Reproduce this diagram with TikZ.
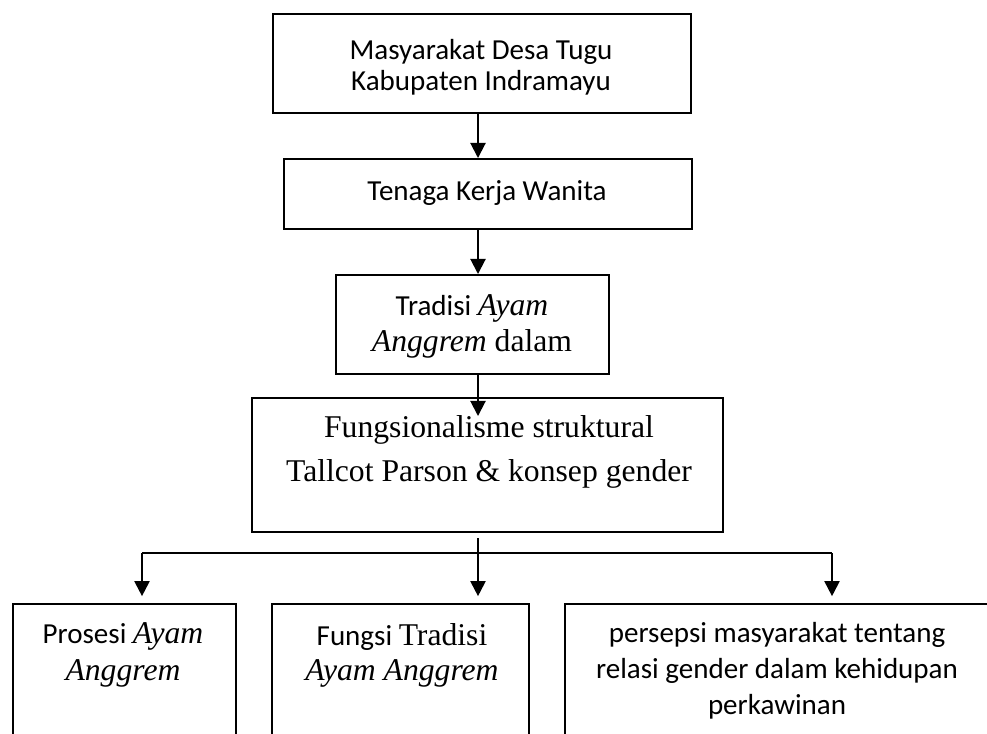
\documentclass[tikz,border=0pt]{standalone}
\usepackage{fontspec}
\setmainfont{Liberation Serif}
\newfontfamily\calibri{Carlito}
\usetikzlibrary{arrows.meta}

\newcommand{\tnr}[1]{{\rmfamily\fontsize{12pt}{\the\baselineskip}\selectfont #1}}

\tikzset{
	kotak/.style={draw, line width=0.75pt, inner sep=0pt},
	teks/.style={inner sep=0pt, align=center},
	panah/.style={line width=0.75pt, -{Triangle[width=5.7pt, length=5.7pt]}},
}

\begin{document}
\begin{tikzpicture}[x=0.379pt, y=-0.379pt]
			\def\ux{0.379pt};

			\useasboundingbox (0,0) rectangle (987,733);
			\clip (0,0) rectangle (987,733);

			\coordinate (sumbu) at (478,0);
			\coordinate (kiri) at (142,553);
			\coordinate (kanan) at (832,553);

			\begin{scope}[every node/.style={kotak}]
				\node [minimum width=418*\ux, minimum height=99*\ux] (masyarakat) at (482,63.5) {};
				\node [minimum width=408*\ux, minimum height=70*\ux] (tenaga) at (488,194) {};
				\node [minimum width=273*\ux, minimum height=99*\ux] (tradisi) at (472.5,324.5) {};
				\node [minimum width=471*\ux, minimum height=134*\ux] (fungsional) at (487.5,465) {};
				\node [minimum width=223*\ux, minimum height=196*\ux] (prosesi) at (124.5,702) {};
				\node [minimum width=257*\ux, minimum height=196*\ux] (fungsi) at (400.5,702) {};
				\node [minimum width=424*\ux, minimum height=196*\ux] (persepsi) at (777,702) {};
			\end{scope}

			\begin{scope}[every node/.style={teks}]
				\node [font=\calibri\fontsize{11pt}{11.75pt}\selectfont] (masyarakat-t) at (481,67) {Masyarakat Desa Tugu\\Kabupaten Indramayu};
				\node [font=\calibri\fontsize{11pt}{13pt}\selectfont] (tenaga-t) at (487,193.5) {Tenaga Kerja Wanita};
				\node [font=\calibri\fontsize{11pt}{13.6pt}\selectfont] (tradisi-t) at (472,326.5) {Tradisi \tnr{\textit{Ayam}}\\\tnr{\textit{Anggrem} dalam}};
				\node [font=\rmfamily\fontsize{12pt}{16.7pt}\selectfont] (fungsional-t) at (489,451.5) {Fungsionalisme struktural\\Tallcot Parson \& konsep gender};
				\node [font=\calibri\fontsize{11pt}{14pt}\selectfont] (prosesi-t) at (123,655) {Prosesi \tnr{\textit{Ayam}}\\\tnr{\textit{Anggrem}}};
				\node [font=\calibri\fontsize{11pt}{13.2pt}\selectfont] (fungsi-t) at (402,655) {Fungsi \tnr{Tradisi}\\\tnr{\textit{Ayam Anggrem}}};
				\node [font=\calibri\fontsize{11pt}{13.6pt}\selectfont] (persepsi-t) at (777,670.5) {persepsi masyarakat tentang\\relasi gender dalam kehidupan\\perkawinan};
			\end{scope}

			\begin{scope}[panah]
				\draw (masyarakat.south -| sumbu) -- (tenaga.north -| sumbu);
				\draw (tenaga.south -| sumbu) -- (tradisi.north -| sumbu);
				\draw [shorten >=-7.2pt] (tradisi.south -| sumbu) -- (fungsional.north -| sumbu);
				\draw [shorten <=1.9pt, shorten >=2.6pt] (fungsional.south -| sumbu) -- (fungsi.north -| sumbu);
				\draw [shorten >=2.6pt] (kiri) -- (prosesi.north -| kiri);
				\draw [shorten >=2.6pt] (kanan) -- (persepsi.north -| kanan);
			\end{scope}

			\draw [line width=0.75pt] (kiri) -- (kanan);
		\end{tikzpicture}
\end{document}
